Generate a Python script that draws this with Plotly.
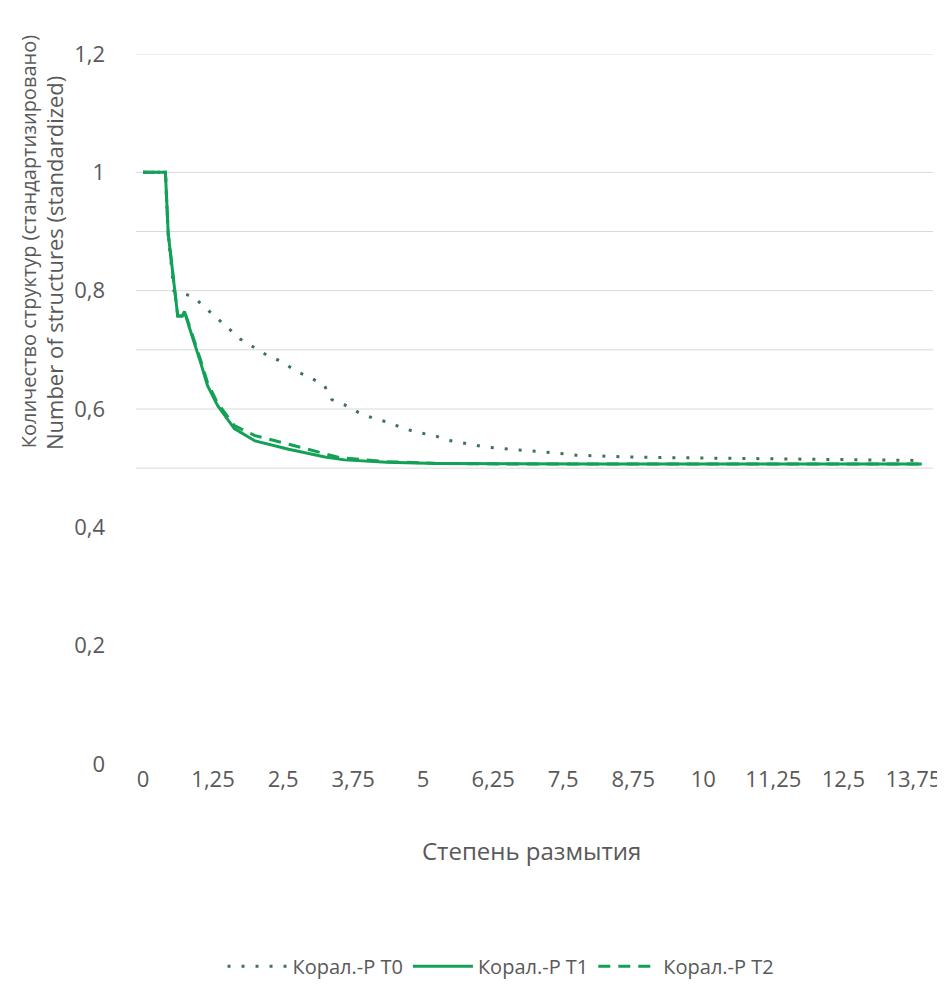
import plotly.graph_objects as go

# ---- data ----
t0_x = [0, 0.25, 0.4, 0.45, 0.55, 0.89, 1.12, 1.33, 1.54, 1.74, 1.99, 2.23, 2.48, 2.73, 2.98,
        3.23, 3.37, 3.6, 3.85, 4.12, 4.4, 4.65, 4.93, 5.2, 5.46, 5.76, 6.03, 6.31, 6.6, 6.88,
        7.16, 7.45, 7.73, 8.0, 8.6, 9.2, 10.0, 11.0, 12.0, 13.0, 13.9]
t0_y = [1, 1, 1, 0.896, 0.80, 0.79, 0.77, 0.753, 0.735, 0.718, 0.703, 0.69, 0.68, 0.664, 0.653,
        0.641, 0.616, 0.607, 0.594, 0.584, 0.577, 0.567, 0.56, 0.555, 0.547, 0.542, 0.537, 0.534,
        0.532, 0.53, 0.527, 0.525, 0.522, 0.521, 0.519, 0.518, 0.517, 0.516, 0.515, 0.514, 0.513]

t1_x = [0, 0.25, 0.4, 0.45, 0.55, 0.62, 0.7, 0.74, 0.83, 0.92, 1.03, 1.15, 1.33, 1.63, 2.0,
        2.6, 3.25, 3.6, 4.35, 5.25, 6.5, 8.0, 10.0, 12.0, 13.9]
t1_y = [1, 1, 1, 0.896, 0.81, 0.757, 0.757, 0.765, 0.737, 0.711, 0.678, 0.64, 0.606, 0.567, 0.546,
        0.532, 0.519, 0.514, 0.510, 0.508, 0.507, 0.507, 0.507, 0.507, 0.507]

t2_x = [0, 0.25, 0.4, 0.45, 0.55, 0.62, 0.7, 0.74, 0.83, 0.92, 1.03, 1.15, 1.33, 1.63, 2.0,
        2.5, 3.0, 3.5, 4.35, 5.25, 6.5, 8.0, 10.0, 12.0, 13.9]
t2_y = [1, 1, 1, 0.896, 0.81, 0.757, 0.757, 0.765, 0.74, 0.715, 0.682, 0.645, 0.61, 0.572, 0.555,
        0.543, 0.53, 0.518, 0.511, 0.508, 0.507, 0.507, 0.507, 0.507, 0.507]

series_names = ["Корал.-Р Т0", "Корал.-Р Т1", "Корал.-Р Т2"]

x_tick_vals = [0, 1.25, 2.5, 3.75, 5, 6.25, 7.5, 8.75, 10, 11.25, 12.5, 13.75]
x_tick_text = ["0", "1,25", "2,5", "3,75", "5", "6,25", "7,5", "8,75", "10", "11,25", "12,5", "13,75"]
y_tick_vals = [0, 0.2, 0.4, 0.6, 0.8, 1.0, 1.2]
y_tick_text = ["0", "0,2", "0,4", "0,6", "0,8", "1", "1,2"]
grid_vals = [0.5, 0.6, 0.7, 0.8, 0.9, 1.0, 1.2]

x_title = "Степень размытия"
y_title_1 = "Количество структур (стандартизировано)"
y_title_2 = "Number of structures (standardized)"

GREEN = "#13a057"
DOT = "#3f7356"
GREY = "#595959"
FONT = "Open Sans"

fig = go.Figure()
fig.add_trace(go.Scatter(x=t0_x, y=t0_y, mode="lines", name=series_names[0],
                         line=dict(color=DOT, width=3, dash="3px,11px")))
fig.add_trace(go.Scatter(x=t1_x, y=t1_y, mode="lines", name=series_names[1],
                         line=dict(color=GREEN, width=3)))
fig.add_trace(go.Scatter(x=t2_x, y=t2_y, mode="lines", name=series_names[2],
                         line=dict(color=GREEN, width=3, dash="12px,8px")))

for g in grid_vals:
    fig.add_shape(type="line", xref="paper", x0=0, x1=1, yref="y", y0=g, y1=g,
                  line=dict(color="#d9d9d9", width=1), layer="below")

fig.update_layout(
    width=945, height=990,
    margin=dict(l=128, r=15, t=46, b=229),
    paper_bgcolor="white", plot_bgcolor="white",
    font=dict(family=FONT, color=GREY, size=20),
    showlegend=True,
    legend=dict(orientation="h", x=0.458, y=-0.285, xanchor="center", yanchor="middle",
                font=dict(size=20, color=GREY), itemwidth=60, bgcolor="rgba(0,0,0,0)"),
    xaxis=dict(range=[-0.125, 14.1], tickmode="array", tickvals=x_tick_vals, ticktext=x_tick_text,
               showgrid=False, zeroline=False, showline=False, ticks="",
               tickfont=dict(size=22, color=GREY), ticklabelstandoff=0),
    yaxis=dict(range=[0, 1.2], tickmode="array", tickvals=y_tick_vals, ticktext=y_tick_text,
               showgrid=False, zeroline=False, showline=False, ticks="",
               tickfont=dict(size=22, color=GREY), ticklabelstandoff=30),
    annotations=[
        dict(text=x_title, xref="paper", yref="paper", x=0.496, y=-0.1217,
             xanchor="center", yanchor="middle", showarrow=False,
             font=dict(size=24, color=GREY)),
        dict(text=y_title_1, xref="paper", yref="paper",
             x=-0.1347, y=0.7357, xanchor="center", yanchor="middle", showarrow=False,
             textangle=-90, font=dict(size=20, color=GREY)),
        dict(text=y_title_2, xref="paper", yref="paper",
             x=-0.1035, y=0.7049, xanchor="center", yanchor="middle", showarrow=False,
             textangle=-90, font=dict(size=22, color=GREY)),
    ],
)

fig.write_html("out.html")
